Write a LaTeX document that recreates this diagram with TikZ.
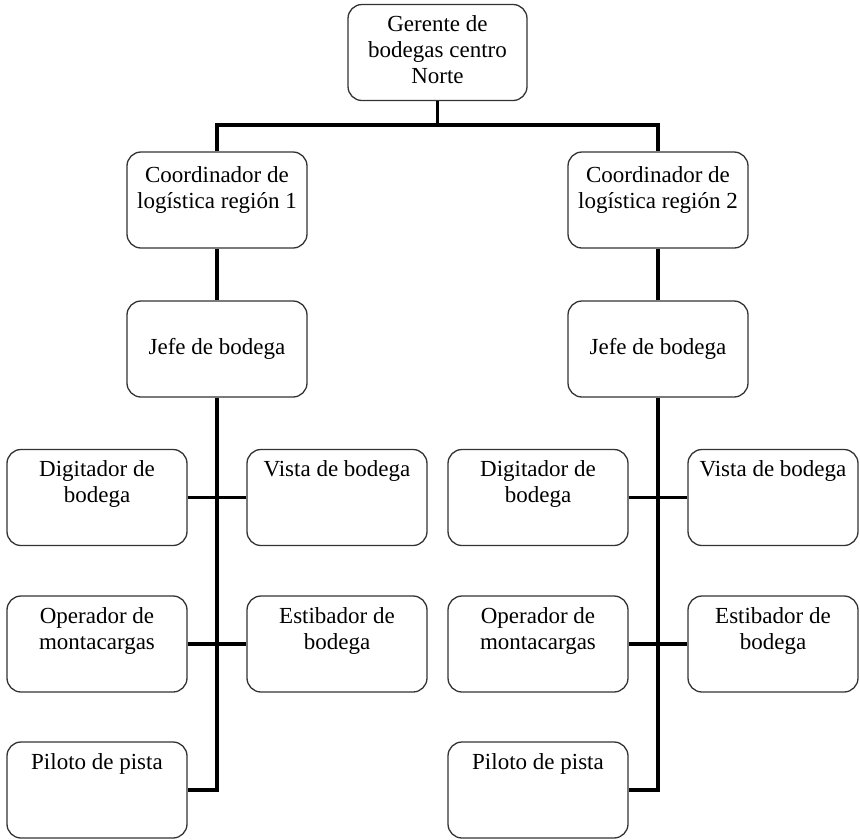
\documentclass[tikz,border=0pt]{standalone}
\usepackage{fontspec}
\setmainfont{Liberation Serif}
\newcommand{\boxtext}[3][27pt]{\parbox[c][96pt][t]{#2}{\centering\rule{0pt}{#1}#3}}
\tikzset{
  orgbox/.style={draw=black!80, line width=1.3pt, rounded corners=14pt,
    minimum height=96pt, inner sep=0pt, align=center,
    font=\fontsize{23}{26}\selectfont},
  conn/.style={line width=3.7pt, black, line join=miter}
}
\begin{document}
\begin{tikzpicture}[x=1pt,y=1pt]
\useasboundingbox (0,0) rectangle (860,-839);
% top
\node[orgbox, minimum width=179pt] (G) at (437.5,-52.5) {\boxtext{179pt}{Gerente de\\bodegas centro\\Norte}};
% coordinators
\node[orgbox, minimum width=180pt] (C1) at (217,-200) {\boxtext[30pt]{180pt}{Coordinador de\\logística región 1}};
\node[orgbox, minimum width=180pt] (C2) at (658,-200) {\boxtext[30pt]{180pt}{Coordinador de\\logística región 2}};
% jefes
\node[orgbox, minimum width=180pt] (J1) at (217,-349) {Jefe de bodega};
\node[orgbox, minimum width=180pt] (J2) at (658,-349) {Jefe de bodega};
% left branch
\node[orgbox, minimum width=180pt] (D1) at (97,-497.5) {\boxtext{180pt}{Digitador de\\bodega}};
\node[orgbox, minimum width=180pt] (V1) at (337,-497.5) {\boxtext{180pt}{Vista de bodega}};
\node[orgbox, minimum width=180pt] (O1) at (97,-644) {\boxtext{180pt}{Operador de\\montacargas}};
\node[orgbox, minimum width=180pt] (E1) at (337,-644) {\boxtext{180pt}{Estibador de\\bodega}};
\node[orgbox, minimum width=180pt] (P1) at (97,-790) {\boxtext{180pt}{Piloto de pista}};
% right branch
\node[orgbox, minimum width=180pt] (D2) at (538,-497.5) {\boxtext{180pt}{Digitador de\\bodega}};
\node[orgbox, minimum width=170pt] (V2) at (773,-497.5) {\boxtext{170pt}{Vista de bodega}};
\node[orgbox, minimum width=180pt] (O2) at (538,-644) {\boxtext{180pt}{Operador de\\montacargas}};
\node[orgbox, minimum width=170pt] (E2) at (773,-644) {\boxtext{170pt}{Estibador de\\bodega}};
\node[orgbox, minimum width=180pt] (P2) at (538,-790) {\boxtext{180pt}{Piloto de pista}};
% connectors
\coordinate (hb) at (437.5,-125);
\draw[conn] (G.south) -- (hb);
\draw[conn] (C1.north) |- (hb) -| (C2.north);
\draw[conn] (C1.south) -- (J1.north);
\draw[conn] (C2.south) -- (J2.north);
\draw[conn] (J1.south) |- (P1.east);
\draw[conn] (J2.south) |- (P2.east);
\draw[conn] (D1.east) -- (V1.west);
\draw[conn] (O1.east) -- (E1.west);
\draw[conn] (D2.east) -- (V2.west);
\draw[conn] (O2.east) -- (E2.west);
\end{tikzpicture}
\end{document}
